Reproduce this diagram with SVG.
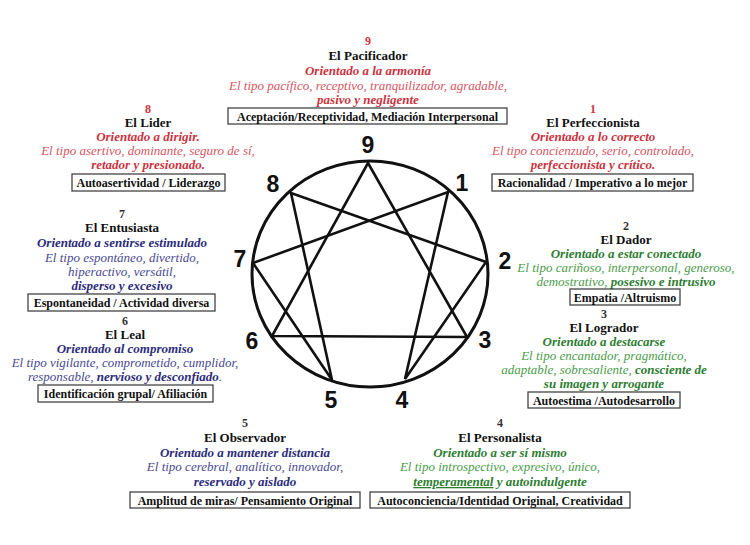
<svg xmlns="http://www.w3.org/2000/svg" width="750" height="545" viewBox="0 0 750 545">
<style>
text{font-family:"Liberation Serif","Times New Roman",serif;text-anchor:middle}
.n{font-size:12px;font-weight:bold;fill:#333}
.nr{fill:#cc3340}
.t{font-size:13px;font-weight:bold;fill:#111}
.o{font-size:13px;font-weight:bold;font-style:italic}
.d{font-size:13px;font-style:italic}
.b{font-weight:bold}
.bx{font-size:12px;font-weight:bold;fill:#111}
.red .o,.red .b{fill:#cc3340}
.red .d{fill:#d65563}
.blue .o,.blue .b{fill:#2c2c7c}
.blue .d{fill:#4a4a92}
.green .o,.green .b{fill:#2e7d32}
.green .d{fill:#4c9c4c}
rect{fill:#fff;stroke:#444;stroke-width:1.3}
.big{font-family:"Liberation Sans",Arial,sans-serif;font-size:23px;font-weight:bold;fill:#111}
.ln{stroke:#111;stroke-width:2.6;fill:none;stroke-linecap:round}
</style>
<rect x="0" y="0" width="750" height="545" style="fill:#fff;stroke:none"/>
<g id="enneagram">
<ellipse cx="370" cy="274" rx="118" ry="113" style="fill:none;stroke:#111;stroke-width:3"/>
</g>
<g id="connectors" class="ln">
<polygon points="368,163 467,337 272,336" class="ln"/>
<polygon points="448,192 405,379 486,262 291,193 332,380 253,263" class="ln"/>
</g>
<g id="numbers">
<text class="big" x="368" y="153">9</text>
<text class="big" x="273" y="192">8</text>
<text class="big" x="462" y="191">1</text>
<text class="big" x="240" y="267">7</text>
<text class="big" x="505" y="269">2</text>
<text class="big" x="252" y="349">6</text>
<text class="big" x="485" y="348">3</text>
<text class="big" x="331" y="408">5</text>
<text class="big" x="402" y="408">4</text>
</g>
<g id="type9" class="red">
<text class="n nr" x="368" y="45">9</text>
<text class="t" x="368" y="60">El Pacificador</text>
<text class="o" x="368" y="75">Orientado  a la armonía</text>
<text class="d" x="368" y="90">El tipo pacífico, receptivo, tranquilizador, agradable,</text>
<text class="o" x="368" y="104">pasivo y negligente</text>
<rect x="228" y="108" width="279" height="16"/>
<text class="bx" x="367.5" y="120.5">Aceptación/Receptividad, Mediación Interpersonal</text>
</g>
<g id="type8" class="red">
<text class="n nr" x="148" y="113">8</text>
<text class="t" x="148" y="127">El Lider</text>
<text class="o" x="148" y="141">Orientado a dirigir.</text>
<text class="d" x="148" y="155">El tipo asertivo, dominante, seguro de sí,</text>
<text class="o" x="148" y="169">retador  y presionado.</text>
<rect x="72" y="174" width="153" height="17"/>
<text class="bx" x="148.5" y="186.5">Autoasertividad / Liderazgo</text>
</g>
<g id="type1" class="red">
<text class="n nr" x="593" y="113">1</text>
<text class="t" x="593" y="127">El Perfeccionista</text>
<text class="o" x="593" y="141">Orientado a  lo correcto</text>
<text class="d" x="593" y="155">El tipo concienzudo, serio, controlado,</text>
<text class="o" x="593" y="169">perfeccionista  y crítico.</text>
<rect x="492" y="174" width="201" height="17"/>
<text class="bx" x="592.5" y="186.5">Racionalidad / Imperativo a lo mejor</text>
</g>
<g id="type7" class="blue">
<text class="n" x="122" y="218">7</text>
<text class="t" x="122" y="232">El Entusiasta</text>
<text class="o" x="122" y="247">Orientado a sentirse estimulado</text>
<text class="d" x="122" y="262">El tipo espontáneo, divertido,</text>
<text class="d" x="122" y="276">hiperactivo, versátil,</text>
<text class="o" x="122" y="290">disperso y excesivo</text>
<rect x="28" y="294" width="187" height="17"/>
<text class="bx" x="121.5" y="306.5">Espontaneidad / Actividad diversa</text>
</g>
<g id="type2" class="green">
<text class="n" x="626" y="230">2</text>
<text class="t" x="626" y="244">El Dador</text>
<text class="o" x="626" y="258">Orientado a estar conectado</text>
<text class="d" x="626" y="272">El tipo cariñoso, interpersonal, generoso,</text>
<text class="d" x="626" y="286">demostrativo, <tspan class="b">posesivo e  intrusivo</tspan></text>
<rect x="570" y="289" width="110" height="16"/>
<text class="bx" x="625" y="301.5">Empatia /Altruismo</text>
</g>
<g id="type6" class="blue">
<text class="n" x="125" y="325">6</text>
<text class="t" x="125" y="339">El Leal</text>
<text class="o" x="125" y="353">Orientado al compromiso</text>
<text class="d" x="125" y="367">El tipo vigilante, comprometido, cumplidor,</text>
<text class="d" x="125" y="381">responsable, <tspan class="b">nervioso y desconfiado</tspan>.</text>
<rect x="38" y="385" width="175" height="17"/>
<text class="bx" x="125.5" y="397.5">Identificación grupal/ Afiliación</text>
</g>
<g id="type3" class="green">
<text class="n" x="604" y="318">3</text>
<text class="t" x="604" y="332">El Logrador</text>
<text class="o" x="604" y="346">Orientado a destacarse</text>
<text class="d" x="604" y="360">El tipo encantador, pragmático,</text>
<text class="d" x="604" y="374">adaptable, sobresaliente, <tspan class="b">consciente de</tspan></text>
<text class="o" x="604" y="388">su imagen y arrogante</text>
<rect x="528" y="392" width="152" height="16"/>
<text class="bx" x="604" y="404.5">Autoestima /Autodesarrollo</text>
</g>
<g id="type5" class="blue">
<text class="n" x="245" y="427">5</text>
<text class="t" x="245" y="442">El Observador</text>
<text class="o" x="245" y="457">Orientado a mantener distancia</text>
<text class="d" x="245" y="471">El tipo cerebral, analítico, innovador,</text>
<text class="o" x="245" y="486">reservado y aislado</text>
<rect x="130" y="492" width="230" height="16"/>
<text class="bx" x="245" y="504.5">Amplitud de miras/ Pensamiento Original</text>
</g>
<g id="type4" class="green">
<text class="n" x="500" y="427">4</text>
<text class="t" x="500" y="442">El Personalista</text>
<text class="o" x="500" y="457">Orientado a ser sí mismo</text>
<text class="d" x="500" y="471">El tipo introspectivo, expresivo, único,</text>
<text class="o" x="500" y="486"><tspan text-decoration="underline">temperamental</tspan> y autoindulgente</text>
<rect x="370" y="492" width="260" height="16"/>
<text class="bx" x="500" y="504.5">Autoconciencia/Identidad Original, Creatividad</text>
</g>
</svg>
